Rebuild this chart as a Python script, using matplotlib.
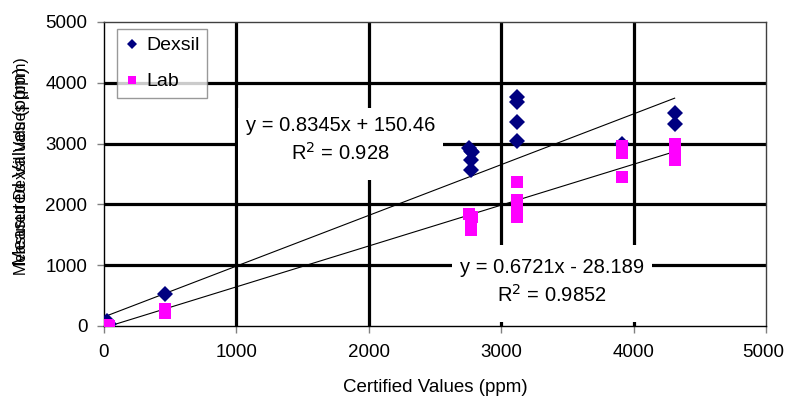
import numpy as np
import matplotlib
matplotlib.use("Agg")
import matplotlib.pyplot as plt
import matplotlib.transforms as mtransforms
from matplotlib.patches import Rectangle

plt.rcParams['font.family'] = ['Liberation Sans', 'DejaVu Sans']

# ---- data ----
dexsil_x = [20, 40, 460, 2760, 2780, 2770, 2775, 2770, 3120, 3120, 3120, 3120, 3910, 4310, 4310]
dexsil_y = [80, 30, 526, 2930, 2870, 2730, 2560, 2880, 3760, 3680, 3350, 3040, 2990, 3500, 3330]
lab_x = [10, 20, 40, 460, 460, 2760, 2780, 2770, 2775, 3120, 3120, 3120, 3120, 3120,
         3910, 3910, 3910, 3910, 4310, 4310, 4310, 4310]
lab_y = [10, 20, 0, 280, 210, 1850, 1800, 1720, 1580, 2370, 2080, 2000, 1900, 1800,
         2960, 2900, 2850, 2457, 3000, 2900, 2800, 2730]
dexsil_fit = (0.8345, 150.46, 0.928)
lab_fit = (0.6721, -28.189, 0.9852)
x_ticks = [0, 1000, 2000, 3000, 4000, 5000]
y_ticks = [0, 1000, 2000, 3000, 4000, 5000]

FS = 13.5
FS_EQ = 14.5

fig = plt.figure(figsize=(7.86, 4.04), dpi=100)
ax = fig.add_axes([104/786, 78/404, 662/786, 304/404])
ax.set_xlim(0, 5000)
ax.set_ylim(0, 5000)

# grid
for v in x_ticks[1:-1]:
    ax.axvline(v, color='black', lw=2.3, zorder=1)
for v in y_ticks[1:-1]:
    ax.axhline(v, color='black', lw=2.3, zorder=1)

# white label boxes
ax.add_patch(Rectangle((1012, 2401), 1548, 1185, facecolor='white', edgecolor='none', zorder=2))
ax.add_patch(Rectangle((2628, 66), 1511, 1266, facecolor='white', edgecolor='none', zorder=2))

# trendlines
for xs, (m, b, r2) in ((dexsil_x, dexsil_fit), (lab_x, lab_fit)):
    xx = np.array([min(xs), max(xs)])
    ax.plot(xx, m * xx + b, color='black', lw=0.8, zorder=3)

ax.plot(dexsil_x, dexsil_y, linestyle='none', marker='D', markersize=8,
        color='#000080', markeredgewidth=0, zorder=4, label='Dexsil')
ax.plot(lab_x, lab_y, linestyle='none', marker='s', markersize=9,
        color='#FF00FF', markeredgewidth=0, zorder=5, label='Lab')

ax.text(1786, 3300, 'y = 0.8345x + 150.46', ha='center', va='center', fontsize=FS_EQ, zorder=6)
ax.text(1786, 2840, 'R$^2$ = 0.928', ha='center', va='center', fontsize=FS_EQ, zorder=6)
ax.text(3383, 970, 'y = 0.6721x - 28.189', ha='center', va='center', fontsize=FS_EQ, zorder=6)
ax.text(3383, 510, 'R$^2$ = 0.9852', ha='center', va='center', fontsize=FS_EQ, zorder=6)

ax.set_xticks(x_ticks)
ax.set_yticks(y_ticks)
ax.tick_params(direction='out', length=5, width=1, color='#808080', labelsize=FS)
ax.tick_params(axis='x', pad=8)
ax.tick_params(axis='y', pad=7)
for s in ('left', 'bottom'):
    ax.spines[s].set_color('black')
    ax.spines[s].set_linewidth(1)
for s in ('top', 'right'):
    ax.spines[s].set_color('#404040')
    ax.spines[s].set_linewidth(1)

# keep the last x tick label inside the canvas
last = ax.get_xticklabels()[-1]
last.set_transform(last.get_transform() + mtransforms.ScaledTranslation(-3/100, 0, fig.dpi_scale_trans))

ax.set_xlabel('Certified Values (ppm)', fontsize=FS, labelpad=13)
fig.text(22/786, 1 - 166/404, 'Measured Values (ppm)', rotation=90, ha='center', va='center', fontsize=FS)
fig.text(22/786, 1 - 166/404, 'Measured Dexsil Values (ppm)', rotation=90, ha='center', va='center', fontsize=11.5)

leg = ax.legend(loc='upper left', bbox_to_anchor=(13/662, 1 - 7/304), borderaxespad=0,
                fontsize=14, frameon=True, fancybox=False, edgecolor='#808080',
                labelspacing=0.95, handlelength=0.7, handletextpad=0.4, borderpad=0.4,
                markerscale=0.7)
leg.get_frame().set_linewidth(1)
leg.set_zorder(7)

fig.savefig('out.png', dpi=100)
